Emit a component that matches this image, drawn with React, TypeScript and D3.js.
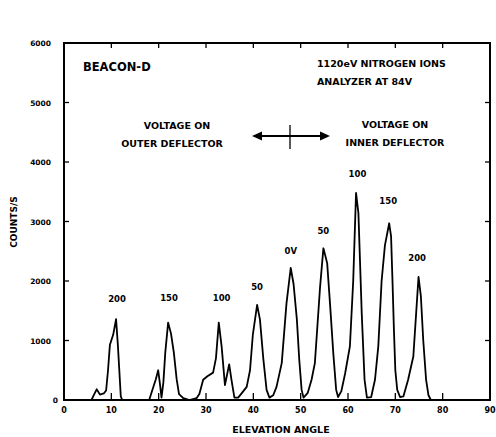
import React from "react";
import * as d3 from "d3";

const angles = [0, 5.8, 6.4, 6.9, 7.6, 8.4, 8.9, 9.3, 9.7, 10.4, 11.0, 11.4, 12.0, 12.3,
  18.0, 18.6, 19.4, 19.9, 20.3, 20.6, 21.0, 21.4, 22.0, 22.6, 23.2, 23.8, 24.3, 25.2, 26.5,
  28.0, 28.6, 29.4, 30.3, 31.5, 32.1, 32.7, 33.3, 34.0, 34.9, 35.4, 36.0,
  36.8, 37.6, 38.6, 39.3, 39.9, 40.8, 41.4, 42.1, 42.8, 43.4,
  44.2, 44.9, 46.0, 47.0, 47.9, 48.5, 49.2, 49.7, 50.2, 50.6,
  51.5, 52.3, 53.0, 54.1, 54.8, 55.6, 56.2, 56.9, 57.5, 57.9,
  58.6, 59.4, 60.4, 61.1, 61.7, 62.2, 62.9, 63.5, 64.0,
  64.9, 65.7, 66.4, 67.1, 67.8, 68.7, 69.1, 69.4, 69.7, 70.0, 70.4, 71.0,
  71.7, 72.7, 73.8, 74.4, 74.9, 75.4, 75.9, 76.5, 77.0, 77.5, 90];
const counts = [0, 0, 100, 180, 90, 110, 160, 500, 930, 1100, 1360, 900, 60, 0,
  0, 150, 350, 500, 250, 40, 300, 800, 1300, 1120, 800, 350, 100, 30, 0,
  30, 100, 340, 400, 460, 700, 1300, 900, 250, 600, 330, 40,
  40, 120, 220, 500, 1100, 1600, 1350, 700, 170, 40,
  80, 220, 620, 1620, 2220, 1950, 1350, 680, 170, 40,
  120, 340, 620, 1900, 2550, 2300, 1620, 780, 170, 50,
  150, 450, 900, 2000, 3480, 3140, 1460, 340, 40,
  50, 340, 900, 2000, 2600, 2970, 2750, 2000, 1180, 500, 170, 50,
  60, 340, 730, 1460, 2070, 1740, 1000, 340, 80, 0, 0];

const peakLabels = ["200", "150", "100", "50", "0V", "50", "100", "150", "200"];
const peakLabelAngles = [11.2, 22.2, 33.3, 40.8, 47.9, 54.8, 62.0, 68.5, 74.6];
const peakLabelCounts = [1700, 1715, 1730, 1915, 2520, 2855, 3815, 3360, 2390];

const xTicks = [0, 10, 20, 30, 40, 50, 60, 70, 80, 90];
const yTicks = [0, 1000, 2000, 3000, 4000, 5000, 6000];

const FONT = "'DejaVu Sans', sans-serif";

export default function App() {
  const x = d3.scaleLinear().domain([0, 90]).range([64, 490]);
  const y = d3.scaleLinear().domain([0, 6000]).range([400, 43]);
  const pts: [number, number][] = angles.map((a, i) => [a, counts[i]]);
  const line = d3.line<[number, number]>().x((d) => x(d[0])).y((d) => y(d[1]));
  const x0 = x(0), x1 = x(90), y0 = y(0), y1 = y(6000);

  return (
    <svg width={496} height={437} style={{ position: "absolute", left: 0, top: 0, background: "#fff" }}
      fontFamily={FONT} fontWeight="bold">
      <rect x={0} y={0} width={496} height={437} fill="#fff" />
      {/* frame */}
      <rect x={x0} y={y1} width={x1 - x0} height={y0 - y1} fill="none" stroke="#000" strokeWidth={2} />
      {/* x ticks */}
      {xTicks.map((t) => (
        <g key={"xt" + t}>
          {t > 0 && t < 90 && <line x1={x(t)} x2={x(t)} y1={y0} y2={y0 - 7} stroke="#000" strokeWidth={1.3} />}
          {t > 0 && t < 90 && <line x1={x(t)} x2={x(t)} y1={y1} y2={y1 + 5} stroke="#000" strokeWidth={1.3} />}
          <text x={x(t)} y={y0 + 13} fontSize={8} textAnchor="middle">{t}</text>
        </g>
      ))}
      {/* y ticks */}
      {yTicks.map((t) => (
        <g key={"yt" + t}>
          {t > 0 && t < 6000 && <line x1={x0} x2={x0 + 5} y1={y(t)} y2={y(t)} stroke="#000" strokeWidth={1.3} />}
          {t > 0 && t < 6000 && <line x1={x1} x2={x1 - 5} y1={y(t)} y2={y(t)} stroke="#000" strokeWidth={1.3} />}
          <text x={t === 0 ? 58 : 51} y={y(t) + 3} fontSize={7.5} textAnchor="end">{t}</text>
        </g>
      ))}
      {/* data */}
      <path d={line(pts) || ""} fill="none" stroke="#000" strokeWidth={1.8} strokeLinejoin="round" />
      {peakLabels.map((l, i) => (
        <text key={"pl" + i} x={x(peakLabelAngles[i])} y={y(peakLabelCounts[i]) + 3.5} fontSize={8.5} textAnchor="middle">{l}</text>
      ))}
      {/* annotations */}
      <text x={83} y={71} fontSize={11.5}>BEACON-D</text>
      <text x={317} y={66.5} fontSize={9.5}>1120eV NITROGEN IONS</text>
      <text x={317} y={85} fontSize={9.5}>ANALYZER AT 84V</text>
      <text x={177} y={129} fontSize={9.5} textAnchor="middle">VOLTAGE ON</text>
      <text x={172} y={147} fontSize={9.5} textAnchor="middle">OUTER DEFLECTOR</text>
      <text x={395} y={128} fontSize={9.5} textAnchor="middle">VOLTAGE ON</text>
      <text x={395} y={146} fontSize={9.5} textAnchor="middle">INNER DEFLECTOR</text>
      <line x1={258} x2={324} y1={136} y2={136} stroke="#000" strokeWidth={2} />
      <path d="M252,136 L262,131.5 L262,140.5 Z" fill="#000" />
      <path d="M330,136 L320,131.5 L320,140.5 Z" fill="#000" />
      <line x1={290} x2={290} y1={125} y2={149} stroke="#000" strokeWidth={1.3} />
      {/* axis titles */}
      <text x={281} y={433} fontSize={9.5} textAnchor="middle">ELEVATION ANGLE</text>
      <text transform="translate(17,222) rotate(-90)" fontSize={9} textAnchor="middle">COUNTS/S</text>
    </svg>
  );
}
